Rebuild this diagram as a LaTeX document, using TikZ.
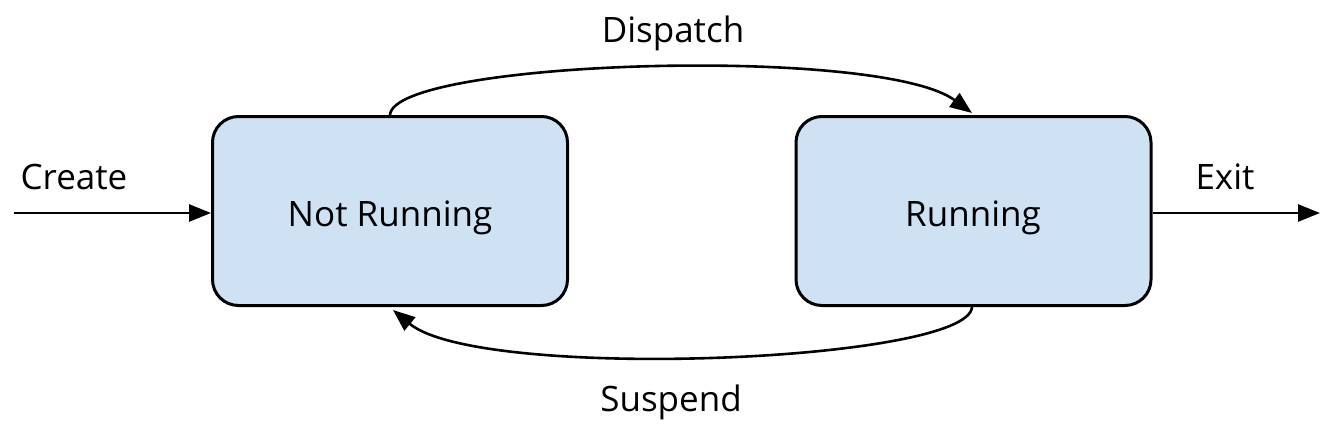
\documentclass[tikz,border=0pt]{standalone}
\usepackage{fontspec}
\setmainfont{Open Sans}
\usetikzlibrary{arrows.meta}
\definecolor{boxfill}{HTML}{CFE2F3}
\begin{document}
\begin{tikzpicture}[x=1pt,y=-1pt,
  statebox/.style={draw=black, line width=3pt, fill=boxfill, rounded corners=26pt,
    minimum width=355pt, minimum height=189pt, inner sep=0pt},
  boxtext/.style={font=\fontsize{35}{40}\selectfont, inner sep=0pt, anchor=base},
  lbl/.style={font=\fontsize{35}{40}\selectfont, inner sep=0pt, anchor=base},
  conn/.style={line width=2.6pt, -{Triangle[length=22pt,width=17pt]}}]
\useasboundingbox (0,0) rectangle (1344,442);
\node[statebox] (nr) at (390,211) {};
\node[statebox] (r) at (973.5,211) {};
\node[boxtext] (nrt) at (390,226) {Not Running};
\node[boxtext] (rt) at (973,226) {Running};
\coordinate (cin) at (14,213);
\coordinate (cout) at (1320,213);
\coordinate (nrtop) at (390,115);
\coordinate (rtop) at (972,113);
\coordinate (rbot) at (972,307);
\coordinate (nrbot) at (393,310);
\draw[conn] (cin) -- (cin -| nr.west);
\draw[conn] (r.east |- cout) -- (cout);
\draw[conn] (nrtop) .. controls (393,60) and (880,45) .. (rtop);
\draw[conn] (rbot) .. controls (969,362) and (480,382) .. (nrbot);
\node[lbl] (create) at (74,189) {Create};
\node[lbl] (exit) at (1225,189) {Exit};
\node[lbl] (dispatch) at (673,42) {Dispatch};
\node[lbl] (suspend) at (671,411) {Suspend};
\end{tikzpicture}
\end{document}
